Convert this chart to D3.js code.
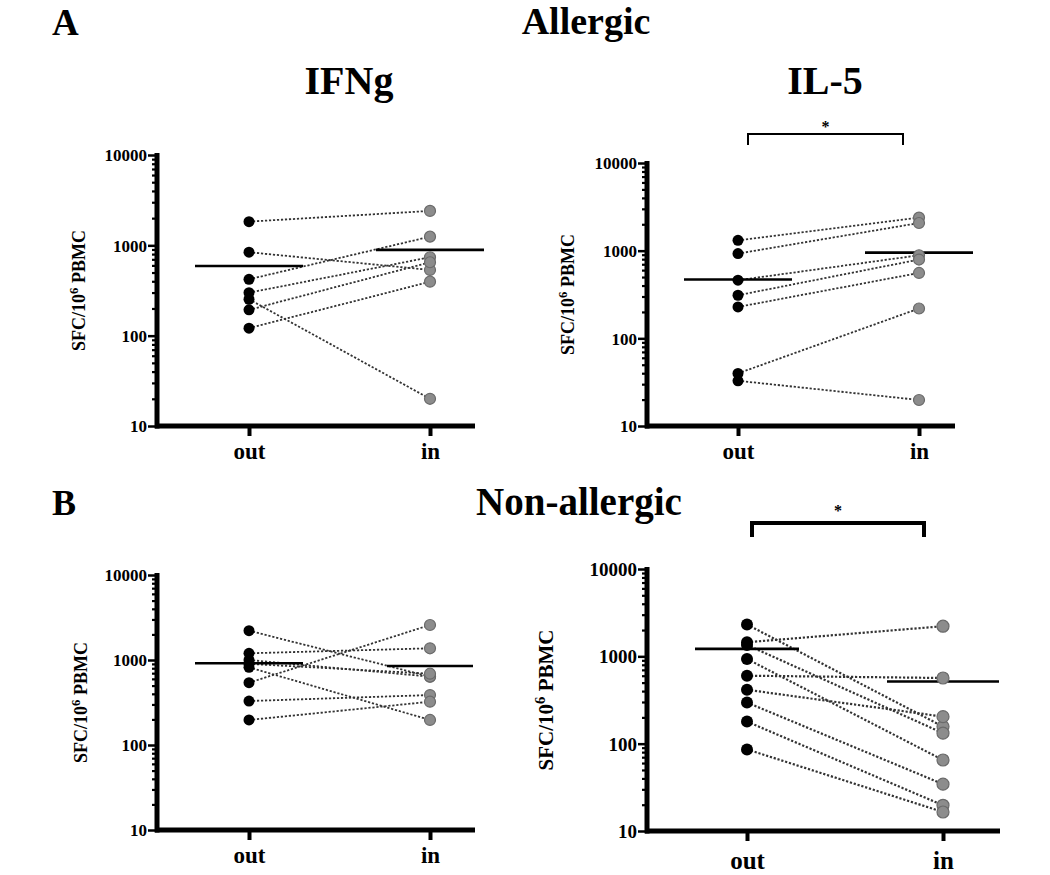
<!DOCTYPE html>
<html>
<head>
<meta charset="utf-8">
<script src="https://cdn.jsdelivr.net/npm/d3@7"></script>
<style>
  body { margin: 0; background: #fff; }
  svg text { font-family: "Liberation Serif", "Times New Roman", serif !important; font-weight: bold; fill: #000; }
</style>
</head>
<body>
<svg id="chart" width="1050" height="875"></svg>
<script>
// ---- data (SFC per 10^6 PBMC) ----
const groups = ["out", "in"];
const yMajorTicks = [10, 100, 1000, 10000];

// A, IFNg (allergic)
const ifngAllergicOut = [1830, 839, 421, 299, 253, 193, 121];
const ifngAllergicIn  = [2404, 534, 1248, 738, 20, 650, 396];
const ifngAllergicMean = [591, 890];

// A, IL-5 (allergic)
const il5AllergicOut = [1313, 926, 460, 310, 228, 39.8, 32.8];
const il5AllergicIn  = [2382, 2068, 886, 792, 557, 219, 19.8];
const il5AllergicMean = [469, 951];

// B, IFNg (non-allergic)
const ifngNonAllergicOut = [2213, 1199, 1000, 900, 820, 541, 329, 197];
const ifngNonAllergicIn  = [637, 1373, 637, 690, 197, 2582, 387, 323];
const ifngNonAllergicMean = [915, 850];

// B, IL-5 (non-allergic)
const il5NonAllergicOut = [2314, 1450, 1350, 933, 600, 414, 296, 179, 86];
const il5NonAllergicIn  = [157, 2212, 132, 65, 565, 204, 34.4, 19.7, 16.5];
const il5NonAllergicMean = [1216, 516];

// ---- layout ----
const panels = [
  { out: ifngAllergicOut, inn: ifngAllergicIn, mean: ifngAllergicMean,
    x0: 157, yTop: 155, yBot: 426, xOut: 249, xIn: 430, xEnd: 475, labelX: 85,
    half: [54, 54], tickFont: 17, labelFont: 18, xFont: 23, xPad: 7, r: 5.5 },
  { out: il5AllergicOut, inn: il5AllergicIn, mean: il5AllergicMean,
    x0: 647, yTop: 163, yBot: 426, xOut: 738, xIn: 919, xEnd: 955, labelX: 574,
    half: [54, 54], tickFont: 17, labelFont: 18, xFont: 23, xPad: 7, r: 5.5,
    bracket: { y: 134, h: 11, w: 2, star: 126, dl: 10, dr: -16 } },
  { out: ifngNonAllergicOut, inn: ifngNonAllergicIn, mean: ifngNonAllergicMean,
    x0: 157, yTop: 575, yBot: 830, xOut: 249, xIn: 430, xEnd: 475, labelX: 87,
    half: [54, 43], tickFont: 17, labelFont: 18, xFont: 23, xPad: 7, r: 5.5 },
  { out: il5NonAllergicOut, inn: il5NonAllergicIn, mean: il5NonAllergicMean,
    x0: 647, yTop: 569, yBot: 831, xOut: 747, xIn: 943, xEnd: 1000, labelX: 553,
    half: [52, 56], tickFont: 19, labelFont: 21, xFont: 25, xPad: 10, r: 6,
    bracket: { y: 523, h: 14, w: 4, star: 510, dl: 5, dr: -19 } }
];

const svg = d3.select("#chart");

// headers
const headers = [
  { t: "A", x: 52, y: 35, a: "start", s: 37 },
  { t: "Allergic", x: 586, y: 34, a: "middle", s: 38 },
  { t: "IFNg", x: 349, y: 94, a: "middle", s: 40 },
  { t: "IL-5", x: 825, y: 94, a: "middle", s: 40 },
  { t: "B", x: 52, y: 515, a: "start", s: 36 },
  { t: "Non-allergic", x: 579, y: 515, a: "middle", s: 39 }
];
svg.selectAll(".hdr").data(headers).join("text")
  .attr("class", "hdr")
  .attr("x", d => d.x).attr("y", d => d.y)
  .attr("text-anchor", d => d.a)
  .style("font-size", d => d.s + "px")
  .text(d => d.t);

panels.forEach(p => {
  const g = svg.append("g");
  const y = d3.scaleLog().domain([10, 10000]).range([p.yBot, p.yTop]);
  const x = d3.scalePoint().domain(groups).range([p.xOut, p.xIn]);

  // minor y ticks
  const minor = y.ticks().filter(v => !yMajorTicks.includes(v));
  g.append("g")
    .attr("transform", `translate(${p.x0},0)`)
    .call(d3.axisLeft(y).tickValues(minor).tickSize(5).tickFormat(""))
    .call(a => a.select(".domain").remove())
    .call(a => a.selectAll(".tick line").attr("stroke", "#000").attr("stroke-width", 2.2));

  // major y ticks + labels
  g.append("g")
    .attr("transform", `translate(${p.x0},0)`)
    .attr("font-family", null)
    .call(d3.axisLeft(y).tickValues(yMajorTicks).tickSize(9).tickPadding(1).tickFormat(d3.format("d")))
    .call(a => a.select(".domain").remove())
    .call(a => a.selectAll(".tick line").attr("stroke", "#000").attr("stroke-width", 2.5))
    .call(a => a.selectAll(".tick text")
      .style("font-family", "'Liberation Serif', serif")
      .style("font-size", p.tickFont + "px")
      .attr("dy", "0.34em"));

  // y axis line
  g.append("line")
    .attr("x1", p.x0).attr("x2", p.x0)
    .attr("y1", y(10000) - 2).attr("y2", y(10) + 2.5)
    .attr("stroke", "#000").attr("stroke-width", 5);

  // x axis
  g.append("g")
    .attr("transform", `translate(0,${p.yBot})`)
    .call(d3.axisBottom(x).tickSize(10).tickPadding(p.xPad).tickSizeOuter(0))
    .call(a => a.select(".domain").remove())
    .call(a => a.selectAll(".tick line").attr("stroke", "#000").attr("stroke-width", 4))
    .call(a => a.selectAll(".tick text")
      .style("font-family", "'Liberation Serif', serif")
      .style("font-size", p.xFont + "px"));

  g.append("line")
    .attr("x1", p.x0 - 2).attr("x2", p.xEnd)
    .attr("y1", p.yBot).attr("y2", p.yBot)
    .attr("stroke", "#000").attr("stroke-width", 5);

  // y label
  const lab = g.append("text")
    .attr("transform", `translate(${p.labelX},${(p.yTop + p.yBot) / 2}) rotate(-90)`)
    .attr("text-anchor", "middle")
    .style("font-size", p.labelFont + "px");
  lab.append("tspan").text("SFC/10");
  lab.append("tspan").attr("dy", -p.labelFont * 0.4).style("font-size", (p.labelFont * 0.7) + "px").text("6");
  lab.append("tspan").attr("dy", p.labelFont * 0.4).text(" PBMC");

  // paired lines
  const pairs = p.out.map((v, i) => [v, p.inn[i]]);
  g.selectAll(".pair").data(pairs).join("line")
    .attr("x1", x("out")).attr("x2", x("in"))
    .attr("y1", d => y(d[0])).attr("y2", d => y(d[1]))
    .attr("stroke", "#333").attr("stroke-width", p.r > 5.5 ? 2.2 : 1.8)
    .attr("stroke-dasharray", "2.2,1.8");

  // mean lines
  g.selectAll(".mean").data(groups).join("line")
    .attr("x1", (d, i) => x(d) - p.half[i]).attr("x2", (d, i) => x(d) + p.half[i])
    .attr("y1", (d, i) => y(p.mean[i])).attr("y2", (d, i) => y(p.mean[i]))
    .attr("stroke", "#000").attr("stroke-width", 2.6);

  // points
  g.selectAll(".pin").data(p.inn).join("circle")
    .attr("cx", x("in")).attr("cy", d => y(d)).attr("r", p.r)
    .attr("fill", "#8c8c8c").attr("stroke", "#6a6a6a").attr("stroke-width", 1.2);
  g.selectAll(".pout").data(p.out).join("circle")
    .attr("cx", x("out")).attr("cy", d => y(d)).attr("r", p.r)
    .attr("fill", "#000");

  // significance bracket
  if (p.bracket) {
    const b = p.bracket;
    const x1 = x("out") + b.dl, x2 = x("in") + b.dr;
    g.append("path")
      .attr("d", `M${x1},${b.y + b.h}V${b.y}H${x2}V${b.y + b.h}`)
      .attr("fill", "none").attr("stroke", "#000").attr("stroke-width", b.w);
    g.append("text")
      .attr("x", (x1 + x2) / 2).attr("y", b.star + 6)
      .attr("text-anchor", "middle")
      .style("font-size", "16px")
      .text("*");
  }
});
</script>
</body>
</html>
